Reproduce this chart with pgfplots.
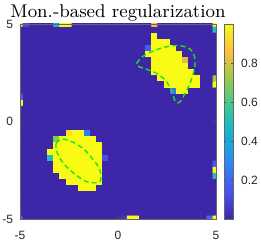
\documentclass[border=0pt]{standalone}
\usepackage{fontspec}
\newfontfamily\arial{Liberation Sans}
\usepackage{pgfplots}
\pgfplotsset{compat=1.18}
\definecolor{mgreen}{rgb}{0.1,0.9,0.1}
\begin{document}
\begin{tikzpicture}
\begin{axis}[
 name=ax,
 scale only axis, width=98pt, height=97.5pt,
 xmin=-5, xmax=5, ymin=-5, ymax=5,
 xtick={-5,0,5}, ytick={-5,0,5},
 xticklabels={-5,0,5}, yticklabels={-5,0,5},
 tick align=inside, major tick length=1.5pt,
 ticklabel style={font=\arial\fontsize{6}{7}\selectfont, text=black!85},
 xticklabel style={yshift=-2.5pt},
 axis line style={black!60, line width=0.4pt},
 tick style={black!70, line width=0.3pt},
 title={Mon.-based regularization},
 title style={font=\fontsize{9.2}{11}\selectfont, yshift=-6pt, inner sep=1pt},
 colormap={parula}{rgb=(0.2422,0.1504,0.6603) rgb=(0.2810,0.3228,0.9579) rgb=(0.1786,0.5289,0.9682) rgb=(0.0689,0.6948,0.8394) rgb=(0.2161,0.7843,0.5923) rgb=(0.5890,0.7890,0.2850) rgb=(0.9940,0.7450,0.2400) rgb=(0.9769,0.9839,0.0805)},
 point meta min=0, point meta max=1,
 colorbar,
 colorbar style={scale only axis, at={(parent axis.north east)}, anchor=north west, xshift=-4.5pt, width=4.5pt,
   ytick={0.2,0.4,0.6,0.8}, yticklabels={0.2,0.4,0.6,0.8},
   yticklabel style={font=\arial\fontsize{6}{7}\selectfont, text=black!85, xshift=0.5pt},
   tick align=inside, major tick length=1.2pt, axis line style={black!60, line width=0.4pt}},
 axis on top,
]
\addplot[matrix plot*, mesh/cols=33, point meta=explicit] table[row sep=\\, header=false,
  x expr={-5+0.3125*mod(\coordindex,33)}, y expr={5-0.3125*floor((\coordindex+0.5)/33)}, meta index=0] {
1\\ 0.12\\ 0\\ 0\\ 0\\ 0\\ 0.45\\ 1\\ 1\\ 0\\ 0\\   0\\ 0\\ 0\\ 0\\ 0\\ 0\\ 0\\ 0\\ 0\\ 0\\ 0\\   0.85\\ 0\\ 0\\ 0\\ 0\\ 0\\ 0\\ 0\\ 0\\ 0\\ 1\\
0\\ 0\\ 0\\ 0\\ 0\\ 0\\ 0\\ 0\\ 0\\ 0\\ 0\\   0\\ 0\\ 0\\ 0\\ 0\\ 0\\ 0\\ 0\\ 0\\ 0\\ 0\\   0\\ 0\\ 0\\ 0\\ 0\\ 0\\ 0\\ 0\\ 0\\ 0\\ 0.5\\
0\\ 0\\ 0\\ 0\\ 0\\ 0\\ 0\\ 0\\ 0\\ 0\\ 0\\   0\\ 0\\ 0\\ 0\\ 0\\ 0\\ 0\\ 0\\ 0\\ 0\\ 0\\   1\\ 0\\ 0\\ 0\\ 0\\ 0\\ 0\\ 0\\ 0\\ 0\\ 0\\
0\\ 0\\ 0\\ 0\\ 0\\ 0\\ 0\\ 0\\ 0\\ 0\\ 0\\   0\\ 0\\ 0\\ 0\\ 0\\ 0\\ 0\\ 0\\ 0\\ 0\\ 0\\   1\\ 1\\ 1\\ 0\\ 0\\ 0\\ 0\\ 0\\ 0\\ 0\\ 0\\
0\\ 0\\ 0\\ 0\\ 0\\ 0\\ 0\\ 0\\ 0\\ 0\\ 0\\   0\\ 0\\ 0\\ 0\\ 0\\ 0\\ 0\\ 0\\ 0\\ 0\\ 0.17\\   1\\ 1\\ 1\\ 1\\ 0\\ 0\\ 0\\ 0\\ 0\\ 0\\ 0\\
0\\ 0\\ 0\\ 0\\ 0\\ 0\\ 0\\ 0\\ 0\\ 0\\ 0\\   0\\ 0\\ 0\\ 0\\ 0\\ 0\\ 0\\ 0\\ 0\\ 0\\ 1\\   1\\ 1\\ 1\\ 1\\ 1\\ 0\\ 0\\ 0\\ 0\\ 0\\ 0\\
0\\ 0\\ 0\\ 0\\ 0\\ 0\\ 0\\ 0\\ 0\\ 0\\ 0\\   0\\ 0\\ 0\\ 0\\ 0\\ 0\\ 0\\ 0\\ 0\\ 0\\ 0\\   1\\ 1\\ 1\\ 1\\ 1\\ 0.82\\ 0\\ 0\\ 0\\ 0\\ 0\\
0\\ 0\\ 0\\ 0\\ 0\\ 0\\ 0\\ 0\\ 0\\ 0\\ 0\\   0\\ 0\\ 0\\ 0\\ 0\\ 0\\ 0\\ 0\\ 0\\ 0\\ 0\\   1\\ 1\\ 1\\ 1\\ 1\\ 1\\ 0\\ 0\\ 0\\ 0\\ 0\\
0\\ 0\\ 0\\ 0\\ 0\\ 0\\ 0\\ 0\\ 0\\ 0\\ 0\\   0\\ 0\\ 0\\ 0\\ 0\\ 0\\ 0\\ 0\\ 0\\ 0\\ 0\\   1\\ 1\\ 1\\ 1\\ 1\\ 1\\ 1\\ 0\\ 0\\ 0\\ 0\\
0\\ 0\\ 0\\ 0\\ 0\\ 0\\ 0\\ 0\\ 0\\ 0\\ 0\\   0\\ 0\\ 0\\ 0\\ 0\\ 0\\ 0\\ 0\\ 0\\ 0\\ 0\\   0\\ 1\\ 1\\ 1\\ 1\\ 1\\ 1\\ 1\\ 0\\ 0\\ 0.72\\
0\\ 0\\ 0\\ 0\\ 0\\ 0\\ 0\\ 0\\ 0\\ 0\\ 0\\   0\\ 0\\ 0\\ 0\\ 0\\ 0\\ 0\\ 0\\ 0\\ 0\\ 0\\   0\\ 0\\ 1\\ 1\\ 1\\ 1\\ 1\\ 1\\ 0\\ 0\\ 1\\
0\\ 0\\ 0\\ 0\\ 0\\ 0\\ 0\\ 0\\ 0\\ 0\\ 0\\   0\\ 0\\ 0\\ 0\\ 0\\ 0\\ 0\\ 0\\ 0\\ 0\\ 0\\   0\\ 0\\ 0\\ 0.25\\ 1\\ 1\\ 0\\ 0\\ 0\\ 0\\ 0\\
0.15\\ 0\\ 0\\ 0\\ 0\\ 0\\ 0\\ 0\\ 0\\ 0\\ 0\\   0\\ 0\\ 0\\ 0\\ 0\\ 0\\ 0\\ 0\\ 0\\ 0\\ 0\\   0\\ 0\\ 0\\ 0\\ 0\\ 0\\ 0\\ 0\\ 0\\ 0\\ 0\\
1\\ 0\\ 0\\ 0\\ 0\\ 0\\ 0\\ 0\\ 0\\ 0\\ 0\\   0\\ 0\\ 0\\ 0\\ 0\\ 0\\ 0\\ 0\\ 0\\ 0\\ 0\\   0\\ 0\\ 0\\ 0\\ 0\\ 0\\ 0\\ 0\\ 0\\ 0\\ 0\\
0\\ 0\\ 0\\ 0\\ 0\\ 0\\ 0\\ 0\\ 0\\ 0\\ 0\\   0\\ 0\\ 0\\ 0\\ 0\\ 0\\ 0\\ 0\\ 0\\ 0\\ 0\\   0\\ 0\\ 0\\ 0\\ 0\\ 0\\ 0\\ 0\\ 0\\ 0\\ 0\\
0\\ 0\\ 0\\ 0\\ 0\\ 0\\ 0\\ 0\\ 0\\ 0\\ 0\\   0\\ 0\\ 0\\ 0\\ 0\\ 0\\ 0\\ 0\\ 0\\ 0\\ 0\\   0\\ 0\\ 0\\ 0\\ 0\\ 0\\ 0\\ 0\\ 0\\ 0\\ 0\\
0\\ 0\\ 0\\ 0\\ 0\\ 0\\ 0\\ 0\\ 0\\ 0\\ 0\\   0\\ 0\\ 0\\ 0\\ 0\\ 0\\ 0\\ 0\\ 0\\ 0\\ 0\\   0\\ 0\\ 0\\ 0\\ 0\\ 0\\ 0\\ 0\\ 0\\ 0\\ 0\\
0\\ 0\\ 0\\ 0\\ 0\\ 0\\ 0\\ 0\\ 0\\ 0\\ 0\\   0\\ 0\\ 0\\ 0\\ 0\\ 0\\ 0\\ 0\\ 0\\ 0\\ 0\\   0\\ 0\\ 0\\ 0\\ 0\\ 0\\ 0\\ 0\\ 0\\ 0\\ 0\\
0\\ 0\\ 0\\ 0\\ 0\\ 0\\ 0\\ 0\\ 0.95\\ 1\\ 1\\   0.25\\ 0\\ 0\\ 0\\ 0\\ 0\\ 0\\ 0\\ 0\\ 0\\ 0\\   0\\ 0\\ 0\\ 0\\ 0\\ 0\\ 0\\ 0\\ 0\\ 0\\ 0\\
0\\ 0\\ 0\\ 0\\ 0\\ 0\\ 0.68\\ 1\\ 1\\ 1\\ 1\\   1\\ 1\\ 0\\ 0\\ 0\\ 0\\ 0\\ 0\\ 0\\ 0\\ 0\\   0\\ 0\\ 0\\ 0\\ 0\\ 0\\ 0\\ 0\\ 0\\ 0\\ 0\\
0\\ 0\\ 0\\ 0\\ 0\\ 0\\ 1\\ 1\\ 1\\ 1\\ 1\\   1\\ 1\\ 1\\ 0\\ 0\\ 0\\ 0\\ 0\\ 0\\ 0\\ 0\\   0\\ 0\\ 0\\ 0\\ 0\\ 0\\ 0\\ 0\\ 0\\ 0\\ 0\\
0\\ 0\\ 0\\ 0\\ 0\\ 1\\ 1\\ 1\\ 1\\ 1\\ 1\\   1\\ 1\\ 1\\ 0\\ 0\\ 0\\ 0\\ 0\\ 0\\ 0\\ 0\\   0\\ 0\\ 0\\ 0\\ 0\\ 0\\ 0\\ 0\\ 0\\ 0\\ 0\\
0\\ 0\\ 0\\ 0\\ 0\\ 0.5\\ 1\\ 1\\ 1\\ 1\\ 1\\   1\\ 1\\ 1\\ 0.13\\ 0\\ 0\\ 0\\ 0\\ 0\\ 0\\ 0\\   0\\ 0\\ 0\\ 0\\ 0\\ 0\\ 0\\ 0\\ 0\\ 0\\ 0\\
0\\ 0\\ 0\\ 0\\ 0\\ 0\\ 1\\ 1\\ 1\\ 1\\ 1\\   1\\ 1\\ 1\\ 0\\ 0\\ 0\\ 0\\ 0\\ 0\\ 0\\ 0\\   0\\ 0\\ 0\\ 0\\ 0\\ 0\\ 0\\ 0\\ 0\\ 0\\ 0.15\\
0\\ 0\\ 0\\ 0\\ 0\\ 0\\ 1\\ 1\\ 1\\ 1\\ 1\\   1\\ 1\\ 1\\ 0\\ 0\\ 0\\ 0\\ 0\\ 0\\ 0\\ 0\\   0\\ 0\\ 0\\ 0\\ 0\\ 0\\ 0\\ 0\\ 0\\ 0\\ 1\\
0\\ 0\\ 0\\ 0\\ 0\\ 0\\ 0\\ 1\\ 1\\ 1\\ 1\\   1\\ 1\\ 1\\ 0\\ 0\\ 0\\ 0\\ 0\\ 0\\ 0\\ 0\\   0\\ 0\\ 0\\ 0\\ 0\\ 0\\ 0\\ 0\\ 0\\ 0\\ 0.5\\
0\\ 0\\ 0\\ 0\\ 0\\ 0\\ 0\\ 0\\ 1\\ 1\\ 1\\   1\\ 1\\ 1\\ 0\\ 0\\ 0\\ 0\\ 0\\ 0\\ 0\\ 0\\   0\\ 0\\ 0\\ 0\\ 0\\ 0\\ 0\\ 0\\ 0\\ 0\\ 0\\
0\\ 0\\ 0\\ 0\\ 0\\ 0\\ 0\\ 0\\ 0\\ 0\\ 1\\   1\\ 1\\ 0\\ 0\\ 0\\ 0\\ 0\\ 0\\ 0\\ 0\\ 0\\   0\\ 0\\ 0\\ 0\\ 0\\ 0\\ 0\\ 0\\ 0\\ 0\\ 0\\
0\\ 0\\ 0\\ 0\\ 0\\ 0\\ 0\\ 0\\ 0\\ 0\\ 0\\   0\\ 0\\ 0\\ 0\\ 0\\ 0\\ 0\\ 0\\ 0\\ 0\\ 0\\   0\\ 0\\ 0\\ 0\\ 0\\ 0\\ 0\\ 0\\ 0\\ 0\\ 0\\
0\\ 0\\ 0\\ 0\\ 0\\ 0\\ 0\\ 0\\ 0\\ 0\\ 0\\   0\\ 0\\ 0\\ 0\\ 0\\ 0\\ 0\\ 0\\ 0\\ 0\\ 0\\   0\\ 0\\ 0\\ 0\\ 0\\ 0\\ 0\\ 0\\ 0\\ 0\\ 0\\
0\\ 0\\ 0\\ 0\\ 0\\ 0\\ 0\\ 0\\ 0\\ 0\\ 0\\   0\\ 0\\ 0\\ 0\\ 0\\ 0\\ 0\\ 0\\ 0\\ 0\\ 0\\   0\\ 0\\ 0\\ 0\\ 0\\ 0\\ 0\\ 0\\ 0\\ 0\\ 0\\
0\\ 0\\ 0\\ 0\\ 0\\ 0\\ 0\\ 0\\ 0\\ 0\\ 0\\   0\\ 0\\ 0\\ 0\\ 0\\ 0\\ 0\\ 0\\ 0\\ 0\\ 0\\   0\\ 0\\ 0\\ 0\\ 0\\ 0\\ 0\\ 0\\ 0\\ 0\\ 0\\
0.2\\ 0\\ 0\\ 0\\ 0\\ 0\\ 0\\ 0\\ 0\\ 0\\ 0\\   0\\ 0\\ 0\\ 0\\ 0\\ 0\\ 0.05\\ 1\\ 1\\ 0\\ 0\\   0\\ 0\\ 0\\ 0\\ 0\\ 0\\ 0\\ 0\\ 0\\ 0.2\\ 1\\
};
\addplot[draw=mgreen, line width=0.7pt, dash pattern=on 2.5pt off 1.6pt, smooth, tension=0.6, no markers] coordinates {
(0.95,2.98) (1.12,3.21) (1.38,3.41) (1.80,3.62) (2.18,3.75) (2.65,3.87) (3.16,3.89) (3.67,3.72) (3.88,3.41) (3.93,2.90) (3.81,2.38) (3.64,1.87) (3.42,1.45) (3.22,1.08) (3.03,0.94) (2.88,1.12) (2.79,1.45) (2.48,2.04) (2.11,2.38) (1.72,2.59) (1.29,2.73) (0.98,2.86) (0.95,2.98)
};
\addplot[draw=mgreen, line width=0.7pt, dash pattern=on 2.5pt off 1.6pt, smooth, tension=0.6, no markers] coordinates {
(-3.16,-1.12) (-2.87,-0.90) (-2.45,-1.0) (-2.03,-1.21) (-1.60,-1.55) (-1.26,-1.97) (-1.0,-2.32) (-0.87,-2.74) (-0.92,-3.09) (-1.17,-3.14) (-1.60,-3.09) (-2.03,-2.83) (-2.45,-2.49) (-2.79,-2.14) (-3.05,-1.72) (-3.16,-1.37) (-3.16,-1.12)
};
\end{axis}
\pgfresetboundingbox
\path[use as bounding box] ([xshift=-10pt,yshift=-11.5pt]ax.south west) rectangle ([xshift=22.5pt,yshift=12pt]ax.north east);
\end{tikzpicture}
\end{document}
